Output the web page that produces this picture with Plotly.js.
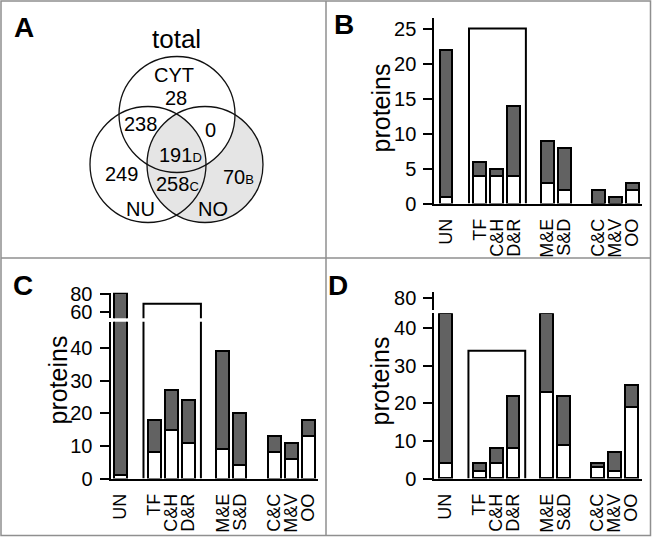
<!DOCTYPE html>
<html><head><meta charset="utf-8">
<script src="https://cdn.plot.ly/plotly-3.0.1.min.js"></script>
<style>html,body{margin:0;padding:0;background:#fff}#chart{width:652px;height:538px}</style>
</head><body><div id="chart"></div>
<script>
// ---- data ----
const groups = [["UN"], ["TF", "C&H", "D&R"], ["M&E", "S&D"], ["C&C", "M&V", "OO"]];
// panel B
const bTotal = [22, 6, 5, 14, 9, 8, 2, 1, 3];
const bWhite = [1, 4, 4, 4, 3, 2, 0, 0, 2];
// panel C
const cTotal = [81, 18, 27, 24, 39, 20, 13, 11, 18];
const cWhite = [1, 8, 15, 11, 9, 4, 8, 6, 13];
// panel D
const dTotal = [44, 4, 8, 22, 44, 22, 4, 7, 25];
const dWhite = [4, 2, 4, 8, 23, 9, 3, 2, 19];
// tick values
const bTicks = [0, 5, 10, 15, 20, 25];
const cTicksLow = [0, 10, 20, 30, 40];
const cTicksHigh = [60, 80];
const dTicksLow = [0, 10, 20, 30, 40];
const dTicksHigh = [80];
// venn
const vennSets = ["CYT", "NU", "NO"];
const vennCounts = ["28", "238", "0", "191", "249", "258", "70"];
const vennTags = ["", "", "", "D", "", "C", "B"];

// ---- helpers ----
const F = "Liberation Sans, Arial, Helvetica, sans-serif";
const W = 652, H = 538;
const fx = p => p / W, fy = p => 1 - p / H;

const cats = [], pos = [];
groups.forEach((g, gi) => g.forEach(c => { cats.push(c); pos.push(cats.length - 1 + gi); }));

const GRAY = '#626262';
function bars(total, white, xa, ya) {
  const gray = total.map((t, i) => t - white[i]);
  const base = {type: 'bar', x: pos, xaxis: xa, yaxis: ya, width: 0.76, hoverinfo: 'skip', showlegend: false};
  return [
    Object.assign({}, base, {y: white, marker: {color: '#ffffff', line: {color: '#000', width: 2}}}),
    Object.assign({}, base, {y: gray, marker: {color: GRAY, line: {color: '#000', width: 2}}})
  ];
}
function bracket(total, xa, ya) {
  const g = groups[1];
  const i0 = cats.indexOf(g[0]), i1 = cats.indexOf(g[g.length - 1]);
  const h = g.reduce((s, c) => s + total[cats.indexOf(c)], 0);
  const xl = pos[i0] - 0.64, xr = pos[i1] + 0.72;
  return {type: 'scatter', mode: 'lines', x: [xl, xl, xr, xr], y: [0, h, h, 0], xaxis: xa, yaxis: ya,
    line: {color: '#000', width: 2}, hoverinfo: 'skip', showlegend: false};
}

// venn geometry (panel A pixel space)
const R = 58;
const circ = {CYT: [177, 114.5], NU: [148, 164.5], NO: [205, 164.5]};
function circlePts(c, n) {
  const xs = [], ys = [];
  for (let k = 0; k <= n; k++) { const a = 2 * Math.PI * k / n; xs.push(c[0] + R * Math.cos(a)); ys.push(c[1] + R * Math.sin(a)); }
  return [xs, ys];
}
function inside(p, c) { return (p[0] - c[0]) ** 2 + (p[1] - c[1]) ** 2 <= R * R + 1e-6; }
function lens(c1, c2) {
  const pts = [];
  for (let k = 0; k < 720; k++) {
    const a = 2 * Math.PI * k / 720;
    const p1 = [c1[0] + R * Math.cos(a), c1[1] + R * Math.sin(a)];
    const p2 = [c2[0] + R * Math.cos(a), c2[1] + R * Math.sin(a)];
    if (inside(p1, c2)) pts.push(p1);
    if (inside(p2, c1)) pts.push(p2);
  }
  const mx = pts.reduce((s, p) => s + p[0], 0) / pts.length, my = pts.reduce((s, p) => s + p[1], 0) / pts.length;
  pts.sort((p, q) => Math.atan2(p[1] - my, p[0] - mx) - Math.atan2(q[1] - my, q[0] - mx));
  pts.push(pts[0]);
  return [pts.map(p => p[0]), pts.map(p => p[1])];
}
const FILLG = '#e5e5e5';
const noP = circlePts(circ.NO, 240), cytP = circlePts(circ.CYT, 240), lensP = lens(circ.NU, circ.NO);
const vennTraces = [
  {x: noP[0], y: noP[1], fillcolor: FILLG},
  {x: cytP[0], y: cytP[1], fillcolor: '#ffffff'},
  {x: lensP[0], y: lensP[1], fillcolor: FILLG}
].map(t => Object.assign({type: 'scatter', mode: 'lines', fill: 'toself', line: {width: 0}, xaxis: 'x4', yaxis: 'y6', hoverinfo: 'skip', showlegend: false}, t));

const data = [].concat(
  vennTraces,
  bars(bTotal, bWhite, 'x', 'y'), [bracket(bTotal, 'x', 'y')],
  bars(cTotal, cWhite, 'x2', 'y2'), [bracket(cTotal, 'x2', 'y2')],
  bars(cTotal, cWhite, 'x2', 'y3'), [bracket(cTotal, 'x2', 'y3')],
  bars(dTotal, dWhite, 'x3', 'y4'), [bracket(dTotal, 'x3', 'y4')],
  [{type: 'scatter', x: [], y: [], xaxis: 'x3', yaxis: 'y5', showlegend: false}]
);

const axBase = {showgrid: false, zeroline: false, showline: true, linecolor: '#000', linewidth: 2, fixedrange: true};
function yAx(dom, rng, tv, anchor) {
  return Object.assign({}, axBase, {domain: dom, range: rng, anchor: anchor, tickmode: 'array', tickvals: tv,
    ticks: 'outside', ticklen: 9, tickwidth: 2, tickcolor: '#000', ticklabelstandoff: 3,
    tickfont: {family: F, size: 20, color: '#000'}});
}
function xAx(dom, rng, anchor) {
  return Object.assign({}, axBase, {domain: dom, range: rng, anchor: anchor, tickmode: 'array', tickvals: pos, ticktext: cats,
    ticks: '', tickangle: -90, ticklabelstandoff: 6, tickfont: {family: F, size: 18, color: '#000'}});
}

const venTxt = [
  ["total", 176.7, 39, 26],
  [vennSets[0], 174, 75, 20],
  [vennCounts[0], 176, 97.7, 20],
  [vennCounts[1], 140, 124.3, 20],
  [vennCounts[2], 210, 130, 20],
  [vennCounts[3], 180.3, 155, 20, vennTags[3]],
  [vennCounts[4], 121.7, 174.3, 20],
  [vennCounts[5], 177.8, 184.3, 20, vennTags[5]],
  [vennCounts[6], 238.2, 176.7, 20, vennTags[6]],
  [vennSets[1], 140, 209.3, 20],
  [vennSets[2], 213.3, 209.3, 20]
];
const annotations = venTxt.map(t => ({
  xref: 'x4', yref: 'y6', x: t[1], y: t[2], xanchor: 'center', yanchor: 'middle', showarrow: false,
  text: t[0] + (t[4] ? "<span style='font-size:13px'>" + t[4] + "</span>" : ""),
  font: {family: F, size: t[3], color: '#000'}
}));
[["A", 24, 27.5], ["B", 344, 24], ["C", 22.5, 285], ["D", 338.5, 285]].forEach(l => annotations.push({
  xref: 'paper', yref: 'paper', x: fx(l[1]), y: fy(l[2]), xanchor: 'center', yanchor: 'middle', showarrow: false,
  text: '<b>' + l[0] + '</b>', font: {family: F, size: 28, color: '#000'}
}));
[[380.5, 108], [57.5, 380], [379.5, 381]].forEach(p => annotations.push({
  xref: 'paper', yref: 'paper', x: fx(p[0]), y: fy(p[1]), xanchor: 'center', yanchor: 'middle', showarrow: false,
  textangle: -90, text: 'proteins', font: {family: F, size: 25, color: '#000'}
}));

const BC = '#8f8f8f';
const shapes = [
  {type: 'rect', xref: 'paper', yref: 'paper', x0: fx(1), x1: fx(650.5), y0: fy(1), y1: fy(535.5), line: {color: BC, width: 1.5}},
  {type: 'line', xref: 'paper', yref: 'paper', x0: fx(326), x1: fx(326), y0: fy(1), y1: fy(535.5), line: {color: BC, width: 1.5}},
  {type: 'line', xref: 'paper', yref: 'paper', x0: fx(1), x1: fx(650.5), y0: fy(258), y1: fy(258), line: {color: BC, width: 1.5}}
];
Object.keys(circ).forEach(k => {
  const c = circ[k];
  shapes.push({type: 'circle', xref: 'x4', yref: 'y6', x0: c[0] - R, x1: c[0] + R, y0: c[1] - R, y1: c[1] + R,
    line: {color: '#111', width: 1.3}, fillcolor: 'rgba(0,0,0,0)'});
});

const layout = {
  width: W, height: H, margin: {l: 0, r: 0, t: 0, b: 0}, paper_bgcolor: '#fff', plot_bgcolor: 'rgba(0,0,0,0)',
  barmode: 'stack', showlegend: false, hovermode: false, font: {family: F, color: '#000'},
  xaxis: xAx([fx(434.3), fx(642)], [-0.69, 11.58], 'y'),
  yaxis: yAx([fy(203.5), fy(18)], [0, 26.5], bTicks, 'x'),
  xaxis2: xAx([fx(110.5), fx(318)], [-0.57, 11.57], 'y2'),
  yaxis2: yAx([fy(478.5), fy(321.7)], [0, 48.1], cTicksLow, 'x2'),
  yaxis3: yAx([fy(318.3), fy(292.7)], [52.54, 81.47], cTicksHigh, 'x2'),
  xaxis3: xAx([fx(434.3), fx(642)], [-0.66, 11.63], 'y4'),
  yaxis4: yAx([fy(478.5), fy(313.3)], [0, 43.94], dTicksLow, 'x3'),
  yaxis5: yAx([fy(310), fy(291.7)], [66.78, 87.46], dTicksHigh, 'x3'),
  xaxis4: {domain: [0, fx(326)], range: [0, 326], visible: false, fixedrange: true, anchor: 'y6'},
  yaxis6: {domain: [fy(258), 1], range: [258, 0], visible: false, fixedrange: true, anchor: 'x4'},
  annotations: annotations, shapes: shapes
};
Plotly.newPlot('chart', data, layout, {displayModeBar: false, staticPlot: true});
</script></body></html>
